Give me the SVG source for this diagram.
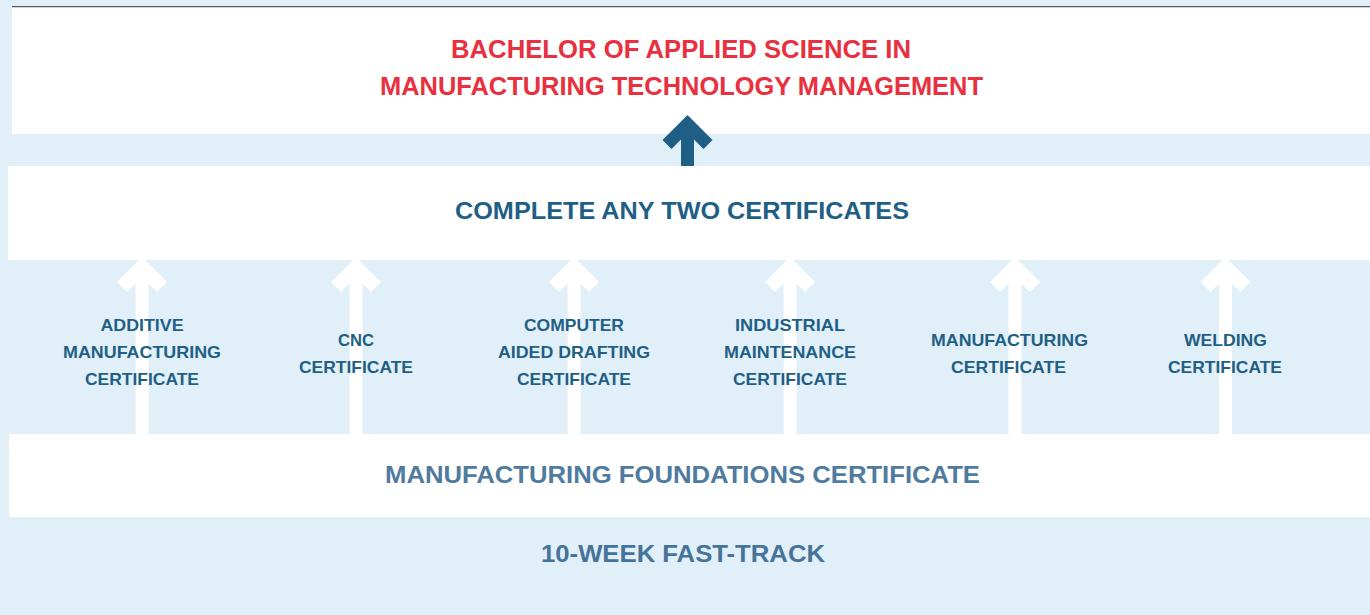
<svg xmlns="http://www.w3.org/2000/svg" width="1370" height="615" viewBox="0 0 1370 615">
<style>
text{font-family:"Liberation Sans",Arial,sans-serif;font-weight:bold;text-anchor:middle}
.title{font-size:26px;fill:#E8303F}
.mid{font-size:23px;fill:#1F5F85}
.found{font-size:23px;fill:#4F7B9F}
.fast{font-size:23px;fill:#46739A}
.lab{font-size:16.5px;fill:#1F5F85}
.box{fill:#FFFFFF}
.wa{fill:#FFFFFF}
.da{fill:#1F5F85}
</style>
<rect x="0" y="0" width="1370" height="615" fill="#E1EFF9"/>
<g id="degree">
<rect x="12" y="6" width="1358" height="1.5" fill="#555D63"/>
<rect class="box" x="12" y="7.5" width="1358" height="126.5"/>
<text class="title" x="681" y="58" textLength="460" lengthAdjust="spacingAndGlyphs">BACHELOR OF APPLIED SCIENCE IN</text>
<text class="title" x="681.5" y="95" textLength="603" lengthAdjust="spacingAndGlyphs">MANUFACTURING TECHNOLOGY MANAGEMENT</text>
</g>
<g id="any-two">
<rect class="box" x="8" y="166" width="1362" height="94"/>
<text class="mid" x="682" y="218.5" textLength="454" lengthAdjust="spacingAndGlyphs">COMPLETE ANY TWO CERTIFICATES</text>
</g>
<g id="foundations">
<rect class="box" x="9" y="434" width="1361" height="83"/>
<text class="found" x="682.5" y="483" textLength="595" lengthAdjust="spacingAndGlyphs">MANUFACTURING FOUNDATIONS CERTIFICATE</text>
</g>
<g id="connectors">
<polygon class="da" points="687.5,115 712.5,140 703.5,149 694,139.5 694,166 681,166 681,139.5 671.5,149 662.5,140"/>
<polygon class="wa" points="142,257 167,282 157,292 148.5,283.5 148.5,435 135.5,435 135.5,283.5 127,292 117,282"/>
<polygon class="wa" points="356,257 381,282 371,292 362.5,283.5 362.5,435 349.5,435 349.5,283.5 341,292 331,282"/>
<polygon class="wa" points="574,257 599,282 589,292 580.5,283.5 580.5,435 567.5,435 567.5,283.5 559,292 549,282"/>
<polygon class="wa" points="790,257 815,282 805,292 796.5,283.5 796.5,435 783.5,435 783.5,283.5 775,292 765,282"/>
<polygon class="wa" points="1015,257 1040,282 1030,292 1021.5,283.5 1021.5,435 1008.5,435 1008.5,283.5 1000,292 990,282"/>
<polygon class="wa" points="1225.5,257 1250.5,282 1240.5,292 1232,283.5 1232,435 1219,435 1219,283.5 1210.5,292 1200.5,282"/>
</g>
<g id="cert-additive">
<text class="lab" x="142" y="331" textLength="83" lengthAdjust="spacingAndGlyphs">ADDITIVE</text>
<text class="lab" x="142" y="358" textLength="158" lengthAdjust="spacingAndGlyphs">MANUFACTURING</text>
<text class="lab" x="142" y="385" textLength="114" lengthAdjust="spacingAndGlyphs">CERTIFICATE</text>
</g>
<g id="cert-cnc">
<text class="lab" x="356" y="346" textLength="36" lengthAdjust="spacingAndGlyphs">CNC</text>
<text class="lab" x="356" y="373" textLength="114" lengthAdjust="spacingAndGlyphs">CERTIFICATE</text>
</g>
<g id="cert-cad">
<text class="lab" x="574" y="331" textLength="100" lengthAdjust="spacingAndGlyphs">COMPUTER</text>
<text class="lab" x="574" y="358" textLength="152" lengthAdjust="spacingAndGlyphs">AIDED DRAFTING</text>
<text class="lab" x="574" y="385" textLength="114" lengthAdjust="spacingAndGlyphs">CERTIFICATE</text>
</g>
<g id="cert-industrial">
<text class="lab" x="790" y="331" textLength="110" lengthAdjust="spacingAndGlyphs">INDUSTRIAL</text>
<text class="lab" x="790" y="358" textLength="132" lengthAdjust="spacingAndGlyphs">MAINTENANCE</text>
<text class="lab" x="790" y="385" textLength="114" lengthAdjust="spacingAndGlyphs">CERTIFICATE</text>
</g>
<g id="cert-manufacturing">
<text class="lab" x="1009.5" y="346" textLength="157" lengthAdjust="spacingAndGlyphs">MANUFACTURING</text>
<text class="lab" x="1008.5" y="373" textLength="115" lengthAdjust="spacingAndGlyphs">CERTIFICATE</text>
</g>
<g id="cert-welding">
<text class="lab" x="1225.5" y="346" textLength="83" lengthAdjust="spacingAndGlyphs">WELDING</text>
<text class="lab" x="1225" y="373" textLength="114" lengthAdjust="spacingAndGlyphs">CERTIFICATE</text>
</g>
<g id="fast-track">
<text class="fast" x="683" y="562" textLength="284" lengthAdjust="spacingAndGlyphs">10-WEEK FAST-TRACK</text>
</g>
</svg>
